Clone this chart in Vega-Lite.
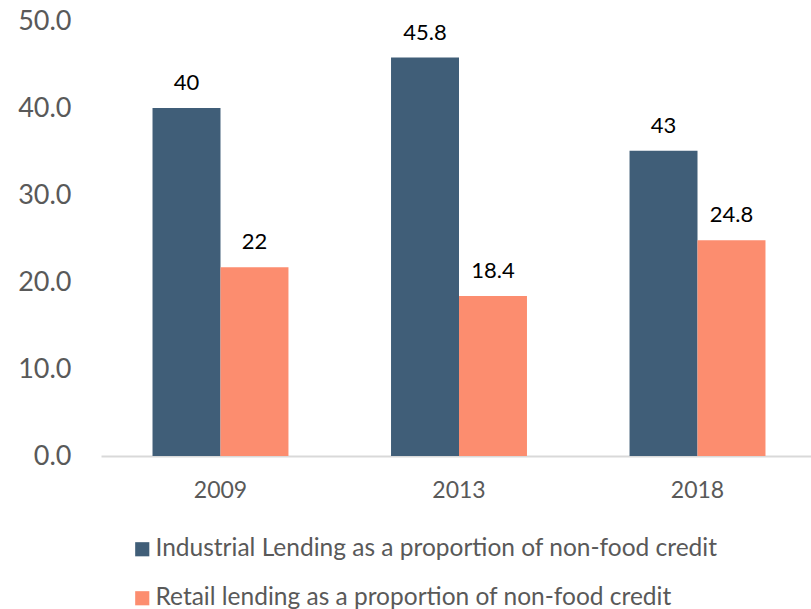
{
  "$schema": "https://vega.github.io/schema/vega-lite/v6.json",
  "width": 710,
  "height": 435,
  "autosize": {"type": "none"},
  "padding": {"left": 101, "top": 21, "right": 0, "bottom": 153},
  "config": {"view": {"stroke": null}, "font": "Lato"},
  "data": {
    "values": [
      {"year": "2009", "series": "Industrial Lending as a proportion of non-food credit", "value": 40.0, "label": "40"},
      {"year": "2009", "series": "Retail lending as a proportion of non-food credit", "value": 21.7, "label": "22"},
      {"year": "2013", "series": "Industrial Lending as a proportion of non-food credit", "value": 45.8, "label": "45.8"},
      {"year": "2013", "series": "Retail lending as a proportion of non-food credit", "value": 18.4, "label": "18.4"},
      {"year": "2018", "series": "Industrial Lending as a proportion of non-food credit", "value": 35.1, "label": "43"},
      {"year": "2018", "series": "Retail lending as a proportion of non-food credit", "value": 24.8, "label": "24.8"}
    ]
  },
  "encoding": {
    "x": {
      "field": "year",
      "type": "nominal",
      "scale": {"paddingInner": 0.43, "paddingOuter": 0.216, "range": [0, 716]},
      "axis": {
        "title": null,
        "labelAngle": 0,
        "domainColor": "#d9d9d9",
        "domainWidth": 2,
        "ticks": false,
        "labelFontSize": 23,
        "labelColor": "#595959",
        "labelPadding": 23
      }
    },
    "xOffset": {
      "field": "series",
      "type": "nominal",
      "sort": ["Industrial Lending as a proportion of non-food credit", "Retail lending as a proportion of non-food credit"]
    },
    "y": {
      "field": "value",
      "type": "quantitative",
      "scale": {"domain": [0, 50], "nice": false},
      "axis": {
        "title": null,
        "values": [0, 10, 20, 30, 40, 50],
        "format": ".1f",
        "grid": false,
        "domain": false,
        "ticks": false,
        "labelFontSize": 27,
        "labelColor": "#595959",
        "labelPadding": 30
      }
    }
  },
  "layer": [
    {
      "mark": {"type": "bar"},
      "encoding": {
        "color": {
          "field": "series",
          "type": "nominal",
          "scale": {
            "domain": ["Industrial Lending as a proportion of non-food credit", "Retail lending as a proportion of non-food credit"],
            "range": ["#405e78", "#fc8d6f"]
          },
          "legend": {
            "orient": "none",
            "legendX": 29,
            "legendY": 516,
            "direction": "vertical",
            "title": null,
            "symbolType": "square",
            "symbolSize": 200,
            "symbolStrokeWidth": 0,
            "labelFontSize": 24.5,
            "labelColor": "#595959",
            "labelOffset": 1,
            "labelLimit": 700,
            "rowPadding": 24,
            "padding": 0
          }
        }
      }
    },
    {
      "mark": {"type": "text", "baseline": "alphabetic", "dy": -18, "fontSize": 22, "color": "#000000"},
      "encoding": {"text": {"field": "label"}}
    }
  ]
}
